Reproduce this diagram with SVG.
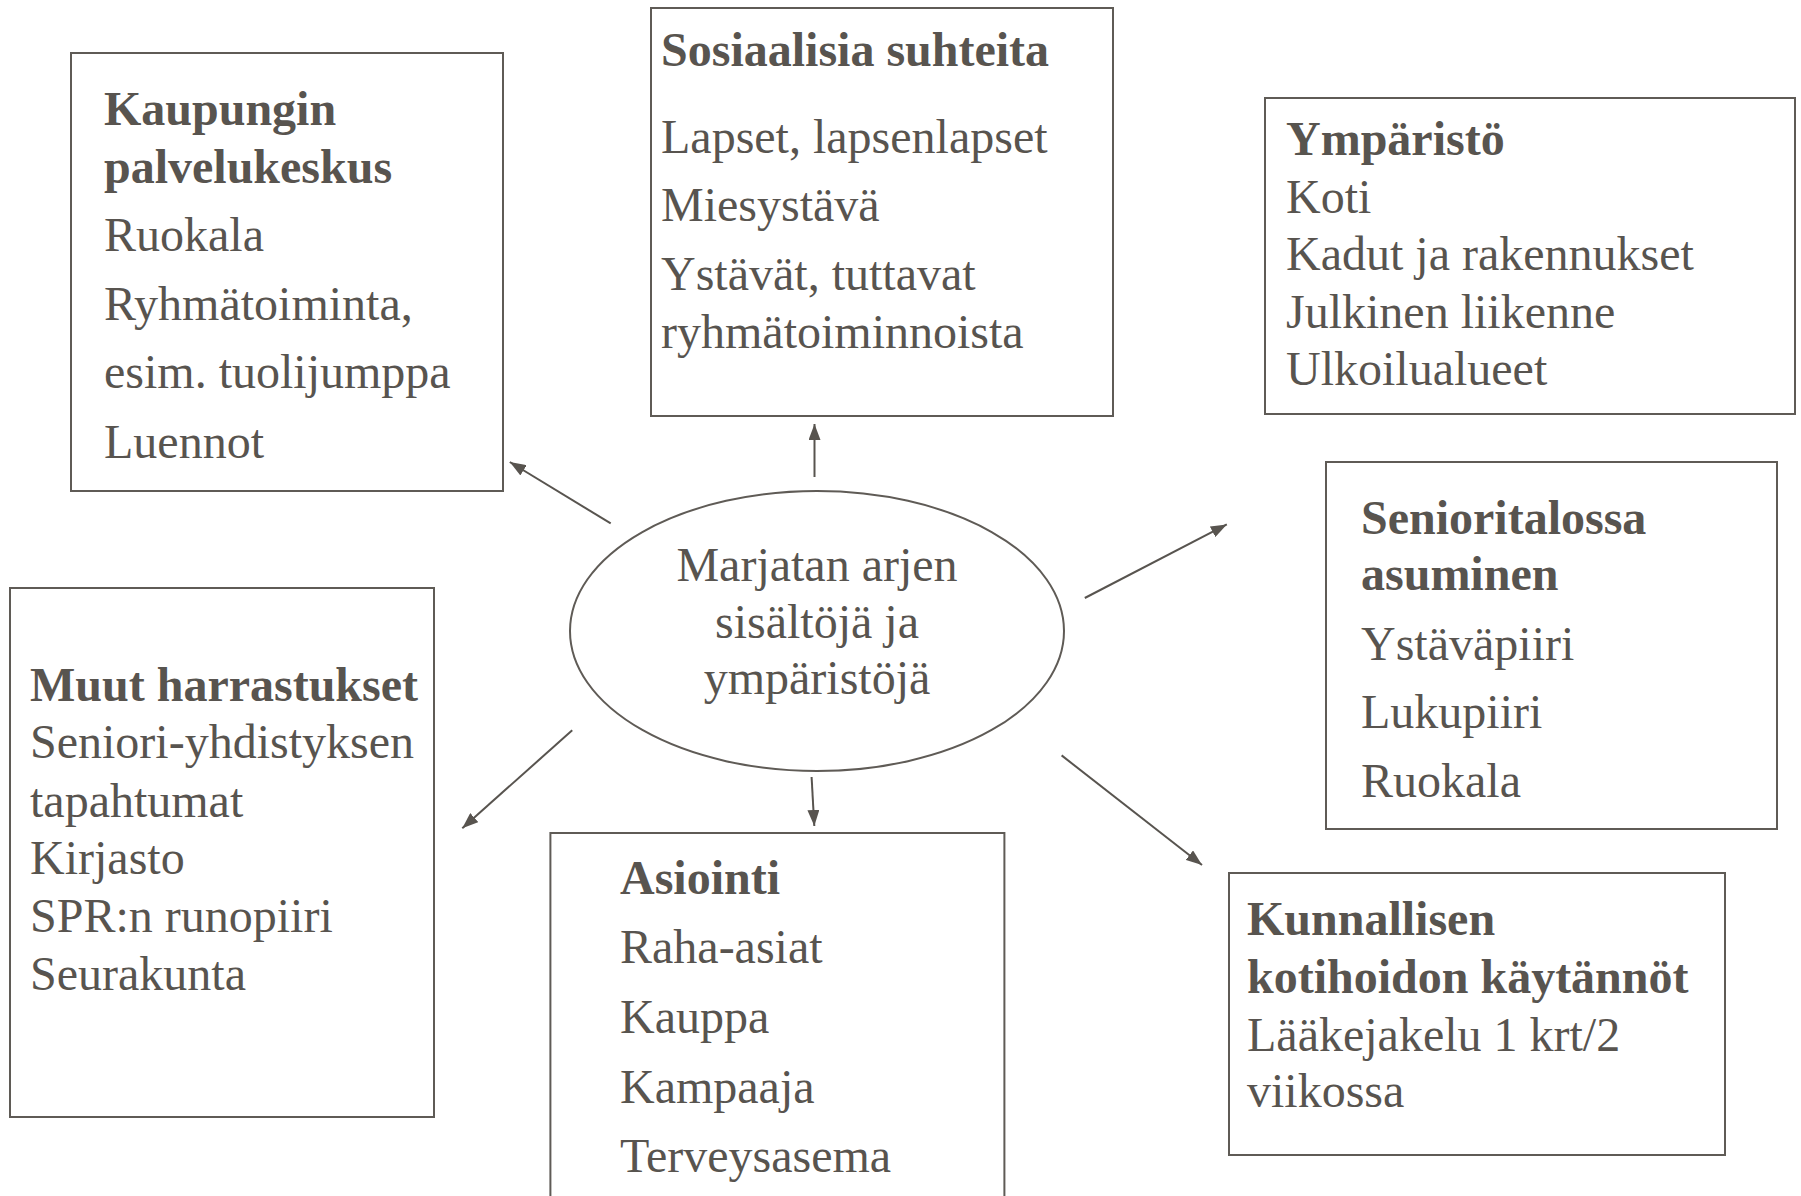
<svg xmlns="http://www.w3.org/2000/svg" width="1801" height="1196" viewBox="0 0 1801 1196">
<style>
.box{fill:#ffffff;stroke:#5f5b56;stroke-width:2}
.t{font-family:"Liberation Serif","Times New Roman",serif;font-size:48px;fill:#58544f}
.b{font-weight:bold}
.c{text-anchor:middle}
.conn{stroke:#58544f;stroke-width:2;fill:none;marker-end:url(#ah)}
</style>
<defs>
<marker id="ah" viewBox="0 0 16 12" refX="16" refY="6" markerWidth="16" markerHeight="12" markerUnits="userSpaceOnUse" orient="auto">
<path d="M0,0 L16,6 L0,12 z" fill="#58544f"/>
</marker>
</defs>
<rect width="1801" height="1196" fill="#ffffff"/>

<g id="connectors">
<line class="conn" x1="814.5" y1="477" x2="814.5" y2="424"/>
<line class="conn" x1="610.7" y1="523.4" x2="509.8" y2="462"/>
<line class="conn" x1="1084.8" y1="598" x2="1226.8" y2="524.4"/>
<line class="conn" x1="1061.6" y1="755.4" x2="1202" y2="865"/>
<line class="conn" x1="811.6" y1="777" x2="814.3" y2="826"/>
<line class="conn" x1="572.2" y1="730.3" x2="462.3" y2="828.2"/>
</g>

<g id="center">
<ellipse class="box" cx="817" cy="631" rx="247" ry="140"/>
<text class="t c" x="817" y="581">Marjatan arjen</text>
<text class="t c" x="817" y="638">sisältöjä ja</text>
<text class="t c" x="817" y="694">ympäristöjä</text>
</g>

<g id="kaupungin">
<rect class="box" x="71" y="53" width="432" height="438"/>
<text class="t b" x="104" y="125">Kaupungin</text>
<text class="t b" x="104" y="183">palvelukeskus</text>
<text class="t" x="104" y="251">Ruokala</text>
<text class="t" x="104" y="320">Ryhmätoiminta,</text>
<text class="t" x="104" y="388">esim. tuolijumppa</text>
<text class="t" x="104" y="458">Luennot</text>
</g>

<g id="sosiaalisia">
<rect class="box" x="651" y="8" width="462" height="408"/>
<text class="t b" x="661" y="66">Sosiaalisia suhteita</text>
<text class="t" x="661" y="153">Lapset, lapsenlapset</text>
<text class="t" x="661" y="221">Miesystävä</text>
<text class="t" x="661" y="290">Ystävät, tuttavat</text>
<text class="t" x="661" y="348">ryhmätoiminnoista</text>
</g>

<g id="ymparisto">
<rect class="box" x="1265" y="98" width="530" height="316"/>
<text class="t b" x="1286" y="155">Ympäristö</text>
<text class="t" x="1286" y="213">Koti</text>
<text class="t" x="1286" y="270">Kadut ja rakennukset</text>
<text class="t" x="1286" y="328">Julkinen liikenne</text>
<text class="t" x="1286" y="385">Ulkoilualueet</text>
</g>

<g id="senioritalossa">
<rect class="box" x="1326" y="462" width="451" height="367"/>
<text class="t b" x="1361" y="534">Senioritalossa</text>
<text class="t b" x="1361" y="590">asuminen</text>
<text class="t" x="1361" y="660">Ystäväpiiri</text>
<text class="t" x="1361" y="728">Lukupiiri</text>
<text class="t" x="1361" y="797">Ruokala</text>
</g>

<g id="kunnallisen">
<rect class="box" x="1229" y="873" width="496" height="282"/>
<text class="t b" x="1247" y="935">Kunnallisen</text>
<text class="t b" x="1247" y="993">kotihoidon käytännöt</text>
<text class="t" x="1247" y="1051">Lääkejakelu 1 krt/2</text>
<text class="t" x="1247" y="1107">viikossa</text>
</g>

<g id="asiointi">
<path class="box" d="M550.4,1200 V833 H1004.4 V1200"/>
<text class="t b" x="620" y="894">Asiointi</text>
<text class="t" x="620" y="963">Raha-asiat</text>
<text class="t" x="620" y="1033">Kauppa</text>
<text class="t" x="620" y="1103">Kampaaja</text>
<text class="t" x="620" y="1172">Terveysasema</text>
</g>

<g id="muut">
<rect class="box" x="10" y="588" width="424" height="529"/>
<text class="t b" x="30" y="701">Muut harrastukset</text>
<text class="t" x="30" y="758">Seniori-yhdistyksen</text>
<text class="t" x="30" y="817">tapahtumat</text>
<text class="t" x="30" y="874">Kirjasto</text>
<text class="t" x="30" y="932">SPR:n runopiiri</text>
<text class="t" x="30" y="990">Seurakunta</text>
</g>
</svg>
